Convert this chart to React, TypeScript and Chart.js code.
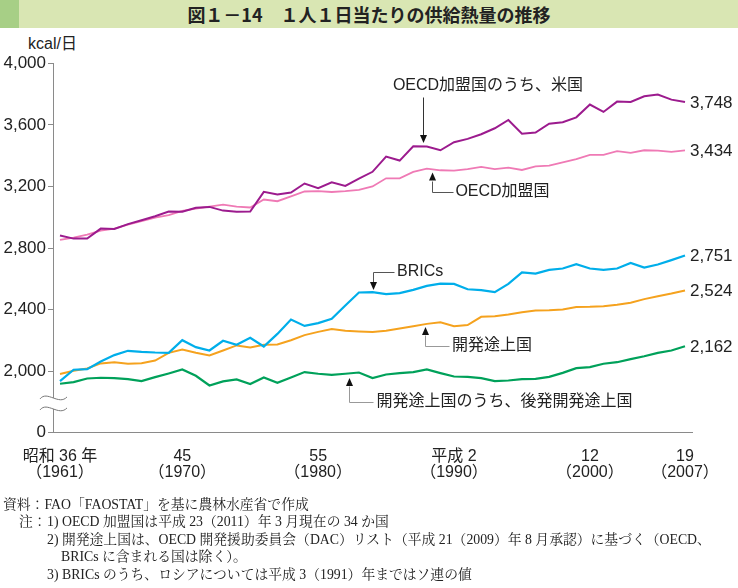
import React, { useEffect, useRef } from 'react';
import { Chart, registerables } from 'chart.js';

Chart.register(...registerables);

// ---- data ----
const years = [
  1961, 1962, 1963, 1964, 1965, 1966, 1967, 1968, 1969, 1970,
  1971, 1972, 1973, 1974, 1975, 1976, 1977, 1978, 1979, 1980,
  1981, 1982, 1983, 1984, 1985, 1986, 1987, 1988, 1989, 1990,
  1991, 1992, 1993, 1994, 1995, 1996, 1997, 1998, 1999, 2000,
  2001, 2002, 2003, 2004, 2005, 2006, 2007,
];

const usValues = [
  2881, 2861, 2861, 2926, 2924, 2955, 2980, 3006, 3037, 3035,
  3061, 3067, 3043, 3035, 3037, 3165, 3147, 3160, 3219, 3188,
  3227, 3203, 3251, 3295, 3394, 3368, 3461, 3459, 3435, 3487,
  3509, 3539, 3578, 3632, 3543, 3550, 3608, 3617, 3649, 3732,
  3684, 3751, 3749, 3786, 3797, 3764, 3748,
];

const oecdValues = [
  2853, 2868, 2887, 2913, 2926, 2952, 2974, 2998, 3013, 3041,
  3056, 3069, 3082, 3069, 3063, 3115, 3104, 3136, 3167, 3169,
  3164, 3169, 3177, 3200, 3253, 3253, 3294, 3316, 3305, 3303,
  3312, 3327, 3312, 3322, 3307, 3331, 3335, 3357, 3377, 3405,
  3405, 3429, 3418, 3435, 3433, 3424, 3434,
];

const bricsValues = [
  1935, 2009, 2013, 2063, 2104, 2132, 2125, 2121, 2119, 2201,
  2156, 2134, 2197, 2171, 2216, 2160, 2242, 2335, 2294, 2312,
  2340, 2426, 2511, 2513, 2500, 2507, 2528, 2554, 2569, 2567,
  2532, 2526, 2513, 2567, 2641, 2634, 2658, 2667, 2695, 2667,
  2658, 2667, 2703, 2673, 2693, 2721, 2751,
];

const developingValues = [
  1981, 2002, 2017, 2050, 2058, 2048, 2052, 2069, 2119, 2141,
  2119, 2102, 2134, 2167, 2154, 2171, 2173, 2201, 2234, 2255,
  2273, 2262, 2258, 2255, 2262, 2277, 2292, 2307, 2318, 2292,
  2299, 2353, 2357, 2368, 2383, 2394, 2396, 2400, 2416, 2418,
  2422, 2431, 2444, 2468, 2487, 2504, 2524,
];

const ldcValues = [
  1918, 1929, 1952, 1957, 1955, 1948, 1935, 1961, 1985, 2011,
  1970, 1907, 1933, 1946, 1916, 1959, 1924, 1959, 1994, 1983,
  1976, 1983, 1991, 1955, 1978, 1987, 1994, 2011, 1987, 1965,
  1963, 1955, 1935, 1939, 1948, 1950, 1963, 1989, 2019, 2026,
  2048, 2058, 2078, 2097, 2119, 2134, 2162,
];

const seriesNames = [
  'OECD加盟国のうち、米国',
  'OECD加盟国',
  'BRICs',
  '開発途上国',
  '開発途上国のうち、後発開発途上国',
];

const tickYears = [1961, 1970, 1980, 1990, 2000, 2007];
const tickEra = ['昭和 36 年', '45', '55', '平成 2', '12', '19'];
const tickWestern = ['（1961）', '（1970）', '（1980）', '（1990）', '（2000）', '（2007）'];

const yTicks = [1600, 2000, 2400, 2800, 3200, 3600, 4000];
const yTickLabels = ['0', '2,000', '2,400', '2,800', '3,200', '3,600', '4,000'];

// ---- styling / layout ----
const SANS = "'Liberation Sans', Arial, 'Noto Sans CJK JP', sans-serif";
const JP = "'Liberation Sans', 'Noto Sans CJK JP', sans-serif";
const SERIF = "'Liberation Serif', 'Noto Serif CJK JP', 'Noto Sans CJK JP', serif";

const colors = ['#9c1b8e', '#ef7ab5', '#00aeea', '#f5a21e', '#00a15a'];
const widths = [2, 1.8, 2.2, 2, 2.2];

const seriesList = [usValues, oecdValues, bricsValues, developingValues, ldcValues];

// annotation callouts, in data coordinates (year, kcal)
const callouts = [
  { text: seriesNames[0], at: [1985.5, 3858], path: [[1987.7, 3782], [1987.7, 3482]], line: '#333' },
  { text: seriesNames[1], at: [1990.1, 3164], path: [[1989.9, 3164], [1988.4, 3164], [1988.4, 3290]], line: '#555' },
  { text: seriesNames[2], at: [1985.8, 2644], path: [[1985.6, 2644], [1984.03, 2644], [1984.03, 2527]], line: '#555' },
  { text: seriesNames[3], at: [1989.85, 2163], path: [[1989.6, 2163], [1987.85, 2163], [1987.85, 2287]], line: '#999' },
  { text: seriesNames[4], at: [1984.3, 1800], path: [[1984.0, 1800], [1982.27, 1800], [1982.27, 1955]], line: '#999' },
];

const overlayPlugin = {
  id: 'overlay',
  afterDraw(chart: any) {
    const { ctx, chartArea } = chart;
    const xs = chart.scales.x;
    const ys = chart.scales.y;
    ctx.save();

    // end-of-line value labels
    ctx.font = `17px ${SANS}`;
    ctx.fillStyle = '#222';
    ctx.textAlign = 'left';
    ctx.textBaseline = 'middle';
    chart.data.datasets.forEach((ds: any, i: number) => {
      const meta = chart.getDatasetMeta(i);
      const pt = meta.data[meta.data.length - 1];
      const v = ds.data[ds.data.length - 1].y;
      ctx.fillText(v.toLocaleString('en-US'), pt.x + 5, pt.y + 1);
    });

    // callouts
    callouts.forEach((c) => {
      const pts = c.path.map(([a, b]) => [xs.getPixelForValue(a), ys.getPixelForValue(b)]);
      const n = pts.length;
      const [tx, ty] = pts[n - 1];
      const [px, py] = pts[n - 2];
      const dx = tx - px;
      const dy = ty - py;
      const len = Math.hypot(dx, dy) || 1;
      const ux = dx / len;
      const uy = dy / len;
      const head = 8;
      const half = 3.5;
      ctx.strokeStyle = c.line;
      ctx.lineWidth = 1;
      ctx.beginPath();
      ctx.moveTo(Math.round(pts[0][0]) + 0.5, Math.round(pts[0][1]) + 0.5);
      for (let k = 1; k < n - 1; k++) ctx.lineTo(Math.round(pts[k][0]) + 0.5, Math.round(pts[k][1]) + 0.5);
      ctx.lineTo(Math.round(tx - ux * head) + 0.5, Math.round(ty - uy * head) + 0.5);
      ctx.stroke();
      const bx = Math.round(tx) + 0.5 - ux * head;
      const by = ty - uy * head;
      ctx.fillStyle = '#111';
      ctx.beginPath();
      ctx.moveTo(Math.round(tx) + 0.5, ty);
      ctx.lineTo(bx - uy * half, by + ux * half);
      ctx.lineTo(bx + uy * half, by - ux * half);
      ctx.closePath();
      ctx.fill();

      ctx.font = `16px ${JP}`;
      ctx.fillStyle = '#222';
      ctx.textAlign = 'left';
      ctx.textBaseline = 'middle';
      ctx.fillText(c.text, xs.getPixelForValue(c.at[0]), ys.getPixelForValue(c.at[1]));
    });

    // axis break marks between 0 and 2,000
    const ax = chartArea.left;
    const mid = ys.getPixelForValue(1800);
    const w1 = mid - 4;
    const w2 = mid + 7;
    ctx.fillStyle = '#fff';
    ctx.fillRect(ax - 3, w1, 6, w2 - w1);
    ctx.strokeStyle = '#777';
    ctx.lineWidth = 1;
    [w1, w2].forEach((wy) => {
      ctx.beginPath();
      ctx.moveTo(ax - 13, wy + 1);
      ctx.bezierCurveTo(ax - 6, wy - 8, ax + 6, wy + 8, ax + 14, wy - 1);
      ctx.stroke();
    });

    ctx.restore();
  },
};

export default function App() {
  const ref = useRef<HTMLCanvasElement>(null);

  useEffect(() => {
    if (!ref.current) return;
    const datasets = seriesList.map((vals, i) => ({
      label: seriesNames[i],
      data: vals.map((v, k) => ({ x: years[k], y: v })),
      borderColor: colors[i],
      backgroundColor: colors[i],
      borderWidth: widths[i],
      pointRadius: 0,
      tension: 0,
      fill: false,
    }));
    const chart = new Chart(ref.current, {
      type: 'line',
      data: { datasets },
      plugins: [overlayPlugin],
      options: {
        responsive: false,
        animation: false,
        devicePixelRatio: 1,
        layout: { padding: { left: 0, right: 46, top: 63.3, bottom: 95.3 } },
        plugins: { legend: { display: false }, tooltip: { enabled: false } },
        scales: {
          x: {
            type: 'linear',
            min: 1960.485,
            max: 2007.515,
            afterBuildTicks: (scale: any) => {
              scale.ticks = tickYears.map((v) => ({ value: v }));
            },
            afterFit: (scale: any) => {
              scale.height = 60;
            },
            grid: { display: true, drawOnChartArea: false, drawTicks: false },
            border: { display: true, color: '#8a8a8a', width: 1 },
            ticks: {
              autoSkip: false,
              maxRotation: 0,
              padding: 16,
              color: '#222',
              font: { family: JP, size: 16, lineHeight: 1 },
              callback: (value: any) => {
                const idx = tickYears.indexOf(Number(value));
                return idx >= 0 ? [tickEra[idx], tickWestern[idx]] : '';
              },
            },
          },
          y: {
            type: 'linear',
            min: 1600,
            max: 4000,
            afterBuildTicks: (scale: any) => {
              scale.ticks = yTicks.map((v) => ({ value: v }));
            },
            afterFit: (scale: any) => {
              scale.width = 53;
            },
            grid: { display: true, drawOnChartArea: false, drawTicks: true, tickLength: 5, color: '#8a8a8a' },
            border: { display: true, color: '#8a8a8a', width: 1 },
            ticks: {
              padding: 2,
              color: '#222',
              font: { family: SANS, size: 17 },
              callback: (value: any) => {
                const idx = yTicks.indexOf(Number(value));
                return idx >= 0 ? yTickLabels[idx] : '';
              },
            },
          },
        },
      },
    } as any);
    return () => chart.destroy();
  }, []);

  const note = (top: number, left: number, text: string) => (
    <div
      style={{
        position: 'absolute',
        top: top - 9,
        left,
        height: 18,
        lineHeight: '18px',
        fontSize: 13.8,
        whiteSpace: 'nowrap',
        color: '#222',
        fontFamily: SERIF,
      }}
    >
      {text}
    </div>
  );

  return (
    <div
      style={{
        position: 'absolute',
        left: 0,
        top: 0,
        width: 738,
        height: 588,
        background: '#fff',
        overflow: 'hidden',
      }}
    >
      <div
        style={{
          position: 'absolute',
          left: 0,
          top: 0,
          width: 738,
          height: 28,
          background: '#d9e6b3',
        }}
      >
        <div style={{ position: 'absolute', left: 0, top: 0, width: 19, height: 28, background: '#a7cf86' }} />
        <div
          style={{
            position: 'absolute',
            left: 0,
            top: 0,
            width: 738,
            height: 28,
            lineHeight: '28px',
            textAlign: 'center',
            fontFamily: "'Noto Sans CJK JP', sans-serif",
            fontWeight: 'bold',
            fontSize: 18,
            color: '#222',
          }}
        >
          図１－14　１人１日当たりの供給熱量の推移
        </div>
      </div>
      <div
        style={{
          position: 'absolute',
          left: 28,
          top: 34,
          fontFamily: JP,
          fontSize: 16,
          lineHeight: '20px',
          color: '#222',
        }}
      >
        kcal/日
      </div>
      <canvas
        ref={ref}
        width={738}
        height={588}
        style={{ position: 'absolute', left: 0, top: 0, width: 738, height: 588 }}
      />
      {note(505, 3, '資料：FAO「FAOSTAT」を基に農林水産省で作成')}
      {note(522, 19, '注：')}
      {note(522, 47, '1) OECD 加盟国は平成 23（2011）年 3 月現在の 34 か国')}
      {note(540, 47, '2) 開発途上国は、OECD 開発援助委員会（DAC）リスト（平成 21（2009）年 8 月承認）に基づく（OECD、')}
      {note(557, 61, 'BRICs に含まれる国は除く）。')}
      {note(575, 47, '3) BRICs のうち、ロシアについては平成 3（1991）年まではソ連の値')}
    </div>
  );
}
